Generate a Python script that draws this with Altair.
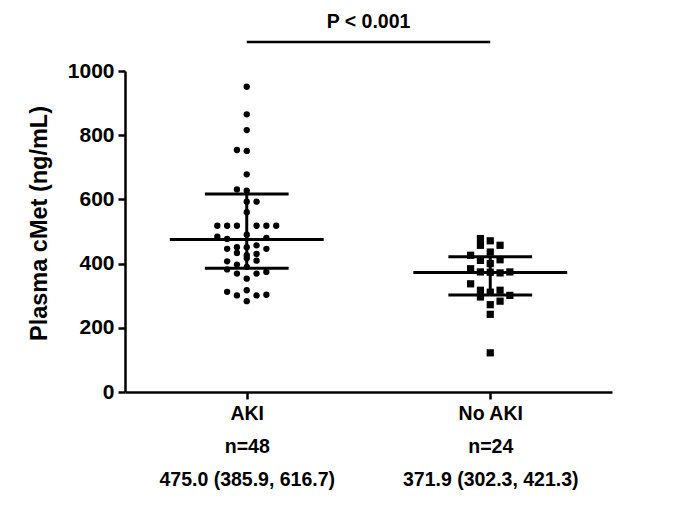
import json
import altair as alt
import pandas as pd

# ---- data ----
categories = ["AKI", "No AKI"]
n_labels = ["n=48", "n=24"]
summary_labels = ["475.0 (385.9, 616.7)", "371.9 (302.3, 421.3)"]
medians = [475.0, 371.9]
q1s = [385.9, 302.3]
q3s = [616.7, 421.3]

aki_values = [951, 865, 816, 754, 751, 678, 631, 627, 593, 593, 560,
              518, 518, 518, 518, 518, 518,
              490, 484, 480, 477,
              457, 451, 451, 446, 446, 433, 430, 426, 417, 409, 407, 397,
              390, 382, 374, 369, 369, 353, 317, 312, 303, 301, 301, 283]
aki_slots = [0, 0, 0, -1, 0, 0, -1, 0, 0, 1, 0,
             -3, -2, -1, 1, 2, 3,
             0, -3, 2, -2,
             1, -1, 0, -2, 2, -1, 1, 0, 0, 1, -2, -1,
             0, -2, 2, -1, 1, 0, 0, -2, 2, -1, 1, 0]

noaki_values = [478, 457, 471, 457, 426, 436, 410, 412, 400, 384, 374, 373,
                371, 374, 337, 317, 296, 311, 317, 301, 283, 272, 242, 122]
noaki_slots = [-1, -1, 0, 1, -2, 0, -1, 1, 0, -2, -1, 0,
               1, 2, -2, -1, -1, 0, 1, 2, 1, 0, 0, 0]

p_text = "P < 0.001"

# ---- tables ----
pts_aki = pd.DataFrame({"grp": 0, "value": aki_values, "slot": aki_slots})
pts_no = pd.DataFrame({"grp": 1, "value": noaki_values, "slot": noaki_slots})
stats = pd.DataFrame({"grp": [0, 1], "median": medians, "q1": q1s, "q3": q3s})

FONT = "Liberation Sans"
SLOT = 0.0403      # horizontal spacing of points (in category units)
MED_HALF = 0.316   # half-length of median bar
Q_HALF = 0.172     # half-length of quartile bars

label_map = {i: [categories[i], n_labels[i], summary_labels[i]] for i in range(2)}
label_expr = ("datum.value == 0 ? " + json.dumps(label_map[0]) +
              " : " + json.dumps(label_map[1]))

x_scale = alt.Scale(domain=[-0.5, 1.5], nice=False, zero=False)
y_scale = alt.Scale(domain=[0, 1000], nice=False)

x_axis = alt.Axis(values=[0, 1], labelExpr=label_expr, title=None, grid=False,
                  tickSize=7, tickWidth=2.5, domainWidth=2.5, tickColor="black",
                  domainColor="black", labelColor="black", labelFont=FONT,
                  labelFontSize=19.5, labelFontWeight="bold", labelPadding=5,
                  labelLineHeight=33, labelLimit=400)
y_axis = alt.Axis(values=[0, 200, 400, 600, 800, 1000], format="d",
                  title="Plasma cMet (ng/mL)",
                  grid=False, tickSize=7, tickWidth=2.5, domainWidth=2.5,
                  tickColor="black", domainColor="black", labelColor="black",
                  labelFont=FONT, labelFontSize=21, labelFontWeight="bold",
                  labelPadding=4, titleFont=FONT, titleFontSize=23.5,
                  titleFontWeight="bold", titleColor="black", titleX=-74, titleY=152)

base_pts = lambda df: alt.Chart(df).transform_calculate(
    xpos=f"datum.grp + datum.slot * {SLOT}")

circles = base_pts(pts_aki).mark_point(shape="circle", filled=True, size=40,
                                       color="black", opacity=1).encode(
    x=alt.X("xpos:Q", scale=x_scale, axis=x_axis),
    y=alt.Y("value:Q", scale=y_scale, axis=y_axis))

squares = base_pts(pts_no).mark_point(shape="square", filled=True, size=52,
                                      color="black", opacity=1).encode(
    x=alt.X("xpos:Q", scale=x_scale),
    y=alt.Y("value:Q", scale=y_scale))

sbase = alt.Chart(stats).transform_calculate(
    m0=f"datum.grp - {MED_HALF}", m1=f"datum.grp + {MED_HALF}",
    k0=f"datum.grp - {Q_HALF}", k1=f"datum.grp + {Q_HALF}")

med = sbase.mark_rule(color="black", strokeWidth=3).encode(
    x=alt.X("m0:Q", scale=x_scale), x2="m1:Q", y=alt.Y("median:Q", scale=y_scale))
lo = sbase.mark_rule(color="black", strokeWidth=3).encode(
    x=alt.X("k0:Q", scale=x_scale), x2="k1:Q", y=alt.Y("q1:Q", scale=y_scale))
hi = sbase.mark_rule(color="black", strokeWidth=3).encode(
    x=alt.X("k0:Q", scale=x_scale), x2="k1:Q", y=alt.Y("q3:Q", scale=y_scale))
vert = sbase.mark_rule(color="black", strokeWidth=3).encode(
    x=alt.X("grp:Q", scale=x_scale), y=alt.Y("q1:Q", scale=y_scale), y2="q3:Q")

bracket = alt.Chart(pd.DataFrame({"a": [0], "b": [1]})).mark_rule(
    color="black", strokeWidth=2.5).encode(
    x=alt.X("a:Q", scale=x_scale), x2="b:Q", y=alt.datum(1090, scale=y_scale))
ptxt = alt.Chart(pd.DataFrame({"t": [p_text], "a": [0.5]})).mark_text(
    font=FONT, fontSize=19.5, fontWeight="bold", color="black").encode(
    x=alt.X("a:Q", scale=x_scale), y=alt.datum(1152), text="t:N")

chart = alt.layer(circles, squares, med, lo, hi, vert, bracket, ptxt).properties(
    width=487, height=321,
    autosize=alt.AutoSizeParams(type="none"),
    padding={"left": 117, "top": 63, "right": 60, "bottom": 100},
    background="white",
).configure_view(stroke=None)

chart.save("out.html", embed_options={"renderer": "svg", "actions": False})
